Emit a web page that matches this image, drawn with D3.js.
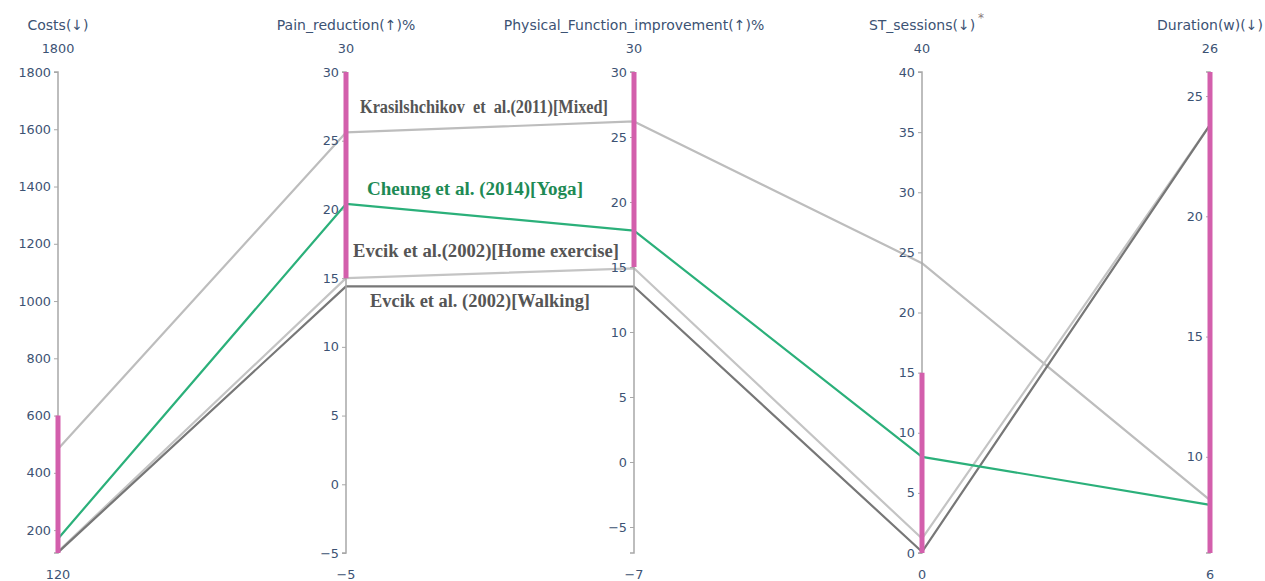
<!DOCTYPE html>
<html>
<head>
<meta charset="utf-8">
<script src="https://cdn.jsdelivr.net/npm/d3@7"></script>
<style>
  html, body { margin: 0; padding: 0; background: #fff; }
  svg { display: block; font-family: "DejaVu Sans", Verdana, sans-serif; }
</style>
</head>
<body>
<svg id="chart" width="1265" height="581"></svg>
<script>
// --- DATA ---
const dimensions = ["Costs(↓)", "Pain_reduction(↑)%", "Physical_Function_improvement(↑)%", "ST_sessions(↓)", "Duration(w)(↓)"];
const dimRanges = [[120, 1800], [-5, 30], [-7, 30], [0, 40], [6, 26]];
const dimTicks = [
    [200, 400, 600, 800, 1000, 1200, 1400, 1600, 1800],
    [-5, 0, 5, 10, 15, 20, 25, 30],
    [-5, 0, 5, 10, 15, 20, 25, 30],
    [0, 5, 10, 15, 20, 25, 30, 35, 40],
    [10, 15, 20, 25]
];
const brushRanges = [[120, 600], [15, 30], [15, 30], [0, 15], [6, 26]];

const studies = ["Krasilshchikov  et  al.(2011)[Mixed]", "Cheung et al. (2014)[Yoga]", "Evcik et al.(2002)[Home exercise]", "Evcik et al. (2002)[Walking]"];
const krasilshchikov = [483, 25.6, 26.2, 24.1, 8.2];
const cheung = [170, 20.4, 17.8, 8.0, 8.0];
const evcikHome = [125, 15.0, 14.9, 1.2, 23.8];
const evcikWalking = [122, 14.4, 13.5, 0.1, 23.8];
const studyValues = [krasilshchikov, cheung, evcikHome, evcikWalking];
const lineColors = ["#bdbdbd", "#2bb07a", "#c4c4c4", "#777777"];

// --- LAYOUT ---
const svg = d3.select("#chart");
const plotTop = 72, plotBottom = 553;
const x = d3.scalePoint().domain(d3.range(dimensions.length)).range([58, 1210]);
const yScales = dimRanges.map(r => d3.scaleLinear().domain(r).range([plotBottom, plotTop]));
const textColor = "#3c5273";
const tickSize = "12.8px";
const titleSize = "14px";

// --- LINES ---
const lineGen = d3.line().x((v, i) => x(i)).y((v, i) => yScales[i](v));
// draw gray first, green on top
const order = [0, 2, 3, 1];
svg.append("g").selectAll("path").data(order).join("path")
    .attr("d", k => lineGen(studyValues[k]))
    .attr("fill", "none")
    .attr("stroke", k => lineColors[k])
    .attr("stroke-width", 2.2)
    .attr("stroke-linejoin", "round");

// --- AXES ---
dimensions.forEach((name, i) => {
    const g = svg.append("g").attr("transform", `translate(${x(i)},0)`);
    const axis = d3.axisLeft(yScales[i]).tickValues(dimTicks[i]).tickSize(4).tickPadding(3).tickFormat(d3.format("d"));
    g.call(axis);
    g.attr("font-family", null).attr("font-size", null);
    g.selectAll(".tick text").attr("fill", textColor).style("font-size", tickSize);
    g.select(".domain").attr("stroke", "#a8a8a8").attr("stroke-width", 1.5).attr("d", `M-4,${plotTop}H0V${plotBottom}H-4`);
    g.selectAll(".tick line").attr("stroke", "#a8a8a8");

    // brushed range
    g.append("line")
        .attr("x1", 0).attr("x2", 0)
        .attr("y1", yScales[i](brushRanges[i][1])).attr("y2", yScales[i](brushRanges[i][0]))
        .attr("stroke", "#d35fac").attr("stroke-width", 5);

    g.append("text").attr("text-anchor", "middle").attr("y", 30)
        .attr("fill", textColor).style("font-size", titleSize).text(name);
    g.append("text").attr("text-anchor", "middle").attr("y", 53)
        .attr("fill", textColor).style("font-size", tickSize).text(d3.format("d")(dimRanges[i][1]));
    g.append("text").attr("text-anchor", "middle").attr("y", 579)
        .attr("fill", textColor).style("font-size", tickSize).text(d3.format("d")(dimRanges[i][0]));
});

// asterisk on ST_sessions
svg.append("text").attr("x", x(3) + 56).attr("y", 22).attr("fill", "#8a7a7a")
    .style("font-size", "12px").text("*");

// --- STUDY LABELS ---
const labelPos = [[360, 113, 248], [367, 195, 216], [353, 257, 266], [370, 307, 220]];
const labelColors = ["#555555", "#1e8a55", "#555555", "#555555"];
svg.append("g").selectAll("text").data(studies).join("text")
    .attr("x", (d, i) => labelPos[i][0])
    .attr("y", (d, i) => labelPos[i][1])
    .attr("textLength", (d, i) => labelPos[i][2])
    .attr("lengthAdjust", "spacingAndGlyphs")
    .attr("fill", (d, i) => labelColors[i])
    .style("font-family", "'Liberation Serif', 'Times New Roman', serif")
    .style("font-weight", "bold")
    .style("font-size", "18px")
    .style("white-space", "pre")
    .text(d => d);
</script>
</body>
</html>
